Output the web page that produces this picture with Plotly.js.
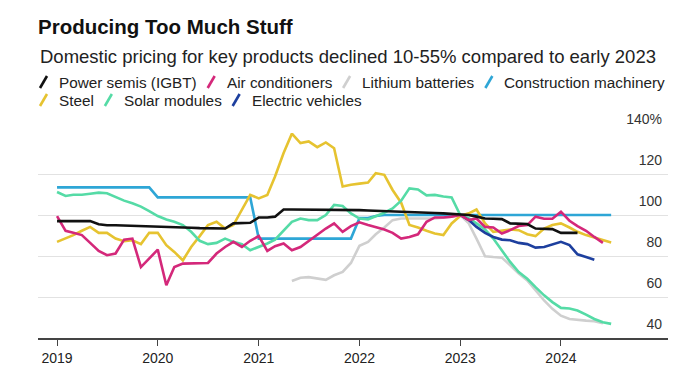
<!DOCTYPE html>
<html>
<head>
<meta charset="utf-8">
<script src="https://cdn.plot.ly/plotly-3.0.1.min.js"></script>
<style>
  html, body { margin: 0; padding: 0; background: #fff; }
  #chart { width: 685px; height: 388px; }
</style>
</head>
<body>
<div id="chart"></div>
<script>
// ---------------- DATA ----------------
const months = [
  '2019-01','2019-02','2019-03','2019-04','2019-05','2019-06','2019-07','2019-08','2019-09','2019-10','2019-11','2019-12',
  '2020-01','2020-02','2020-03','2020-04','2020-05','2020-06','2020-07','2020-08','2020-09','2020-10','2020-11','2020-12',
  '2021-01','2021-02','2021-03','2021-04','2021-05','2021-06','2021-07','2021-08','2021-09','2021-10','2021-11','2021-12',
  '2022-01','2022-02','2022-03','2022-04','2022-05','2022-06','2022-07','2022-08','2022-09','2022-10','2022-11','2022-12',
  '2023-01','2023-02','2023-03','2023-04','2023-05','2023-06','2023-07','2023-08','2023-09','2023-10','2023-11','2023-12',
  '2024-01','2024-02','2024-03','2024-04','2024-05','2024-06','2024-07'
];

const seriesNames = ['Power semis (IGBT)', 'Air conditioners', 'Lithium batteries', 'Construction machinery',
                     'Steel', 'Solar modules', 'Electric vehicles'];
const seriesColors = ['#111111', '#d4287a', '#cfcfcf', '#2ea6d6', '#e6c330', '#55dba6', '#1d3f9e'];

const powerSemis = [
  97, 97, 97, 97, 97, 95.5, 95, 95, 94.9, 94.7, 94.6, 94.5,
  94.4, 94.2, 94.1, 93.9, 93.8, 93.6, 93.5, 93.4, 93.4, 95.9, 96, 96.2,
  98.8, 98.8, 99.2, 102.7, 102.7, 102.7, 102.6, 102.6, 102.5, 102.5, 102.4, 102.4,
  102.4, 102.2, 102.1, 102, 101.9, 101.7, 101.5, 101.3, 101.1, 101, 100.8, 100.5,
  100.3, 100, 99.2, 98.3, 98.2, 98, 95.9, 95.7, 95.6, 93.4, 93.1, 93.1,
  91.3, 91.3, 91.3, null, null, null, null
];
const airConditioners = [
  99.5, 92.3, 91.3, 90.2, 86.4, 82.5, 80.4, 81.2, 88, 88.5, 74.6, 78.7,
  83.1, 65.7, 74.6, 76.3, 76.3, 76.3, 76.6, 81.2, 84.4, 86.9, 84.4, 87.4,
  89.7, 82.5, 84.8, 86.1, 82.8, 84.4, 87.4, 90.2, 93.4, 95.9, 91.8, 94.6,
  96.4, 95.1, 94.2, 92.9, 91.3, 88.5, 89.3, 90.6, 96.7, 98.8, 98.8, 99.2,
  100, 97.5, 98.3, 94.2, 93.9, 91, 92.6, 94.6, 95.1, 99.2, 98.2, 98.2,
  101.6, 97.2, 94.6, 92.3, 89.3, 86.4, null
];
const lithiumBatteries = [
  null, null, null, null, null, null, null, null, null, null, null, null,
  null, null, null, null, null, null, null, null, null, null, null, null,
  null, null, null, null, 67.8, 69.4, 69.7, 68.9, 68.4, 70.6, 72.2, 76.6,
  85, 86.9, 90.6, 93.9, 97.5, 98.3, 98.2, 98.2, 98.3, 98.3, 98.7, 99.2,
  100, 95.9, 88.5, 79.9, 79.5, 79.2, 75.5, 71.4, 68.1, 63.2, 58.3, 54.2,
  50.9, 49.3, 48.8, 48.5, 48.2, 47.2, null
];
const constructionMachinery = [
  113.5, 113.5, 113.5, 113.5, 113.5, 113.5, 113.5, 113.5, 113.5, 113.5, 113.5, 113.5,
  108.6, 108.6, 108.6, 108.6, 108.6, 108.6, 108.6, 108.6, 108.6, 108.6, 108.6, 108.6,
  88.5, 88.5, 88.5, 88.5, 88.5, 88.5, 88.5, 88.5, 88.5, 88.5, 88.5, 88.5,
  98.5, 98.5, 99.5, 100, 100, 100, 100, 100, 100, 100, 100, 100,
  100, 100, 100, 100, 100, 100, 100, 100, 100, 100, 100, 100,
  100, 100, 100, 100, 100, 100, 100
];
const steel = [
  86.9, 88.5, 90.2, 92.3, 94.2, 91.3, 91.3, 88.5, 87.2, 87.7, 85.8, 91.3,
  91.3, 85.3, 82, 77.9, 84.4, 89.7, 95.1, 96.7, 93.4, 95.1, 102.4, 109.8,
  108.1, 109.8, 118.8, 130.2, 139.7, 135.1, 135.9, 133.1, 135.4, 132.6, 113.9, 114.8,
  115.3, 115.8, 120.4, 119.6, 112.2, 106, 95.1, 93.9, 92.3, 91, 90.2, 95.9,
  99.5, 100.8, 102.7, 95.9, 91.8, 92.3, 92.9, 92.6, 90.6, 89.7, 93.4, 95.1,
  95.9, 93.9, 91.8, 90.2, 89, 88, 86.6
];
const solarModules = [
  111.2, 109.3, 109.9, 109.9, 110.4, 110.9, 110.6, 108.6, 107, 105.7, 104.1, 101.9,
  99.5, 97.8, 96.7, 95.1, 91.8, 87.4, 85.8, 86.4, 88.5, 86.9, 85.8, 82.8,
  84.4, 86.1, 88, 92.6, 96.7, 98.3, 97.5, 97.5, 100, 104.9, 104.4, 100.8,
  98.3, 97.8, 99.2, 101.1, 103.2, 107, 113, 112.5, 109.6, 109.8, 109, 108.6,
  100, 98.3, 95.9, 92.9, 88.5, 82.8, 77.1, 72.2, 68.9, 64.8, 60.8, 57.5,
  54.7, 54.4, 53.4, 51.4, 49.3, 47.7, 46.9
];
const electricVehicles = [
  null, null, null, null, null, null, null, null, null, null, null, null,
  null, null, null, null, null, null, null, null, null, null, null, null,
  null, null, null, null, null, null, null, null, null, null, null, null,
  null, null, null, null, null, null, null, null, null, null, null, null,
  100, 97.5, 94.2, 91.3, 89.3, 88, 87.7, 86.4, 85.8, 84.1, 84.4, 85.8,
  86.9, 85.3, 80.8, 79.5, 78.2, null, null
];

const xTickVals = ['2019-01-01','2020-01-01','2021-01-01','2022-01-01','2023-01-01','2024-01-01'];
const xTickText = ['2019','2020','2021','2022','2023','2024'];
const yTickVals = [40, 60, 80, 100, 120, 140];
const yTickText = ['40', '60', '80', '100', '120', '140%'];

const titleText = 'Producing Too Much Stuff';
const subtitleText = 'Domestic pricing for key products declined 10-55% compared to early 2023';

// ---------------- BUILD ----------------
const seriesValues = [powerSemis, airConditioners, lithiumBatteries, constructionMachinery,
                      steel, solarModules, electricVehicles];
const drawOrder = [2, 3, 4, 5, 6, 1, 0];

const W = 685, H = 388;
const M = { l: 38, r: 17, t: 133, b: 50 };
const FONT = '"Liberation Sans", Arial, Helvetica, sans-serif';

function px2paper(x, y) {
  return { x: (x - M.l) / (W - M.l - M.r), y: (H - M.b - y) / (H - M.t - M.b) };
}

const traces = drawOrder.map(i => ({
  type: 'scatter',
  mode: 'lines',
  x: months,
  y: seriesValues[i],
  name: seriesNames[i],
  line: { color: seriesColors[i], width: 2.6 },
  connectgaps: false,
  showlegend: false,
  hoverinfo: 'x+y+name'
}));

// Legend (slash marks + labels), flowed like the reference
const ctx = document.createElement('canvas').getContext('2d');
const legendFontSize = 15.3;
ctx.font = legendFontSize + 'px "Liberation Sans"';
const shapes = [];
const annotations = [];
let lx = 40, ly = 82;
seriesNames.forEach((name, i) => {
  const tw = ctx.measureText(name).width;
  const itemW = 17 + tw;
  if (lx + itemW > 672) { lx = 40; ly += 18; }
  const p0 = px2paper(lx, ly + 6), p1 = px2paper(lx + 7, ly - 6);
  shapes.push({ type: 'line', xref: 'paper', yref: 'paper', x0: p0.x, y0: p0.y, x1: p1.x, y1: p1.y,
                line: { color: seriesColors[i], width: 2.6 } });
  const pt = px2paper(lx + 17, ly);
  annotations.push({ xref: 'paper', yref: 'paper', x: pt.x, y: pt.y, xanchor: 'left', yanchor: 'middle',
                     text: name, showarrow: false, font: { family: FONT, size: legendFontSize, color: '#222' } });
  lx += itemW + 13;
});

const ps = px2paper(38, 56);
annotations.push({ xref: 'paper', yref: 'paper', x: ps.x, y: ps.y, xanchor: 'left', yanchor: 'middle',
                   text: subtitleText, showarrow: false, font: { family: FONT, size: 18.5, color: '#222' } });

const layout = {
  width: W, height: H,
  margin: M,
  paper_bgcolor: '#ffffff',
  plot_bgcolor: '#ffffff',
  title: {
    text: titleText,
    xref: 'container', yref: 'container',
    x: 38 / W, xanchor: 'left',
    y: 1 - 27 / H, yanchor: 'middle',
    font: { family: FONT, size: 20.5, weight: 700, color: '#111' }
  },
  xaxis: {
    type: 'date',
    range: ['2018-10-24', '2025-01-23'],
    tickvals: xTickVals,
    ticktext: xTickText,
    showgrid: false,
    zeroline: false,
    showline: true,
    linecolor: '#444',
    linewidth: 1.5,
    ticks: 'outside',
    ticklen: 6,
    tickwidth: 1.2,
    tickcolor: '#444',
    tickfont: { family: FONT, size: 14, color: '#222' },
    fixedrange: true
  },
  yaxis: {
    range: [40, 140],
    side: 'right',
    tickvals: yTickVals,
    ticktext: yTickText,
    ticklabelposition: 'inside',
    ticklabeloverflow: 'allow',
    ticklabelstandoff: 3,
    ticklabelshift: -14,
    ticks: '',
    showgrid: true,
    gridcolor: '#e2e2e2',
    gridwidth: 1,
    zeroline: false,
    showline: false,
    tickfont: { family: FONT, size: 14, color: '#333' },
    fixedrange: true
  },
  shapes: shapes,
  annotations: annotations,
  showlegend: false,
  hovermode: 'closest'
};

Plotly.newPlot('chart', traces, layout, { displayModeBar: false, staticPlot: false });
</script>
</body>
</html>
